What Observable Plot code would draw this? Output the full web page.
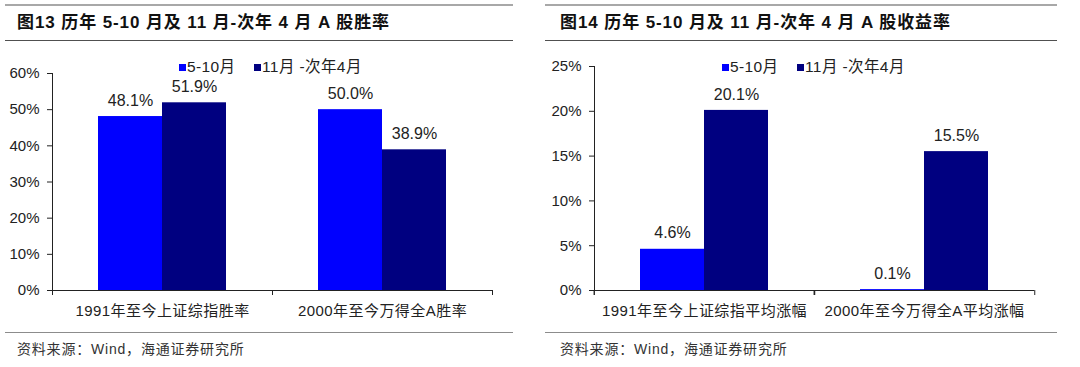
<!DOCTYPE html>
<html><head><meta charset="utf-8">
<script src="https://cdn.jsdelivr.net/npm/d3@7"></script>
<script src="https://cdn.jsdelivr.net/npm/@observablehq/plot@0.6"></script>
<style>
body{margin:0;background:#fff;width:1080px;height:367px;overflow:hidden;position:relative;font-family:"Liberation Sans","Noto Sans CJK SC",sans-serif;color:#222}
.panel{position:absolute;top:0;width:540px;height:367px}
.hr{position:absolute;height:0}
.title{position:absolute;top:12px;font-weight:bold;font-size:17px;letter-spacing:0.9px;white-space:nowrap;line-height:22px;color:#111}
.source{position:absolute;top:340px;font-size:14px;letter-spacing:0.8px;line-height:18px;white-space:nowrap;color:#333}
.chart{position:absolute;top:55px;left:0}
.legend-item{position:absolute;top:59px;font-size:15.5px;line-height:16px;display:flex;align-items:center;white-space:nowrap;letter-spacing:0.4px;z-index:2}
.sw{width:7px;height:7px;margin-right:1px;display:inline-block}
.chart svg{overflow:visible}
[aria-label="fx-axis tick label"] text{letter-spacing:0.45px}
</style>
</head><body>
<div id="root"></div>
<script>
// ---- data ----
const series = ["5-10月", "11月-次年4月"];
const seriesLegend = ["5-10月", "11月 -次年4月"];
const seriesColors = ["#0000ff", "#000080"];

const winCategories = ["1991年至今上证综指胜率", "2000年至今万得全A胜率"];
const winMayOct = [48.1, 50.0];
const winNovApr = [51.9, 38.9];
const winTicks = [0, 10, 20, 30, 40, 50, 60];

const retCategories = ["1991年至今上证综指平均涨幅", "2000年至今万得全A平均涨幅"];
const retMayOct = [4.6, 0.1];
const retNovApr = [20.1, 15.5];
const retTicks = [0, 5, 10, 15, 20, 25];

const titles = ["图13 历年 5-10 月及 11 月-次年 4 月 A 股胜率", "图14 历年 5-10 月及 11 月-次年 4 月 A 股收益率"];
const sourceText = "资料来源：Wind，海通证券研究所";

function rows(cats, a, b) {
  const out = [];
  cats.forEach((c, i) => {
    out.push({cat: c, series: series[0], value: a[i]});
    out.push({cat: c, series: series[1], value: b[i]});
  });
  return out;
}

function makeChart({cats, data, ticks, width, height, ml, mr, mt, mb}) {
  const half = (width - ml - mr) / cats.length / 2;
  return Plot.plot({
    width, height, marginLeft: ml, marginRight: mr, marginTop: mt, marginBottom: mb,
    style: {fontFamily: '"Liberation Sans","Noto Sans CJK SC",sans-serif', fontSize: "15px", color: "#222", background: "transparent", overflow: "visible"},
    fx: {domain: cats, padding: 0, label: null},
    x: {domain: series, paddingInner: 0, paddingOuter: 0.705, axis: null},
    y: {domain: [0, d3.max(ticks)], ticks, tickFormat: d => d + "%", tickSize: 5, tickPadding: 8, line: true, label: null},
    color: {domain: series, range: seriesColors},
    marks: [
      Plot.barY(data, {fx: "cat", x: "series", y: "value", fill: "series"}),
      Plot.text(data, {fx: "cat", x: "series", y: "value", text: d => d.value.toFixed(1) + "%", dy: -16, fontSize: 16, fill: "#222"}),
      Plot.ruleY([0], {stroke: "#222", strokeWidth: 1.2}),
      Plot.axisFx({anchor: "bottom", tickSize: 0, tickPadding: 15, label: null, fontSize: 15}),
      Plot.axisFx(cats, {anchor: "bottom", tickSize: 5, tickFormat: () => "", label: null, dx: -half, ariaLabel: "fx-boundary"}),
      Plot.axisFx([cats[cats.length - 1]], {anchor: "bottom", tickSize: 5, tickFormat: () => "", label: null, dx: half, ariaLabel: "fx-boundary"})
    ]
  });
}

const panels = [
  {left: 0, title: titles[0], cats: winCategories, data: rows(winCategories, winMayOct, winNovApr), ticks: winTicks,
   ml: 52, mr: 28, mt: 18, titleX: 17, lineX1: 5, lineX2: 513, legendX: [179, 254]},
  {left: 540, title: titles[1], cats: retCategories, data: rows(retCategories, retMayOct, retNovApr), ticks: retTicks,
   ml: 53, mr: 26, mt: 11, titleX: 20, lineX1: 5, lineX2: 517, legendX: [182, 257]}
];

const root = document.getElementById("root");
panels.forEach(p => {
  const panel = document.createElement("div");
  panel.className = "panel";
  panel.style.left = p.left + "px";
  const line = (y, w, c) => {
    const d = document.createElement("div");
    d.className = "hr";
    d.style.top = y + "px";
    d.style.left = p.lineX1 + "px";
    d.style.width = (p.lineX2 - p.lineX1) + "px";
    d.style.borderTop = w + "px solid " + c;
    panel.appendChild(d);
  };
  line(4, 2, "#a8a8a8");
  line(39.5, 1.5, "#505050");
  line(331.5, 1.5, "#8c8c8c");
  const t = document.createElement("div");
  t.className = "title"; t.style.left = p.titleX + "px"; t.textContent = p.title;
  panel.appendChild(t);
  const s = document.createElement("div");
  s.className = "source"; s.style.left = p.titleX + "px"; s.textContent = sourceText;
  panel.appendChild(s);
  const c = document.createElement("div");
  c.className = "chart";
  c.appendChild(makeChart({cats: p.cats, data: p.data, ticks: p.ticks, width: 520, height: 270, ml: p.ml, mr: p.mr, mt: p.mt, mb: 35}));
  panel.appendChild(c);
  seriesLegend.forEach((name, i) => {
    const li = document.createElement("div");
    li.className = "legend-item";
    li.style.left = p.legendX[i] + "px";
    const sw = document.createElement("span");
    sw.className = "sw"; sw.style.background = seriesColors[i];
    li.appendChild(sw);
    li.appendChild(document.createTextNode(name));
    panel.appendChild(li);
  });
  root.appendChild(panel);
});
</script>
</body></html>
